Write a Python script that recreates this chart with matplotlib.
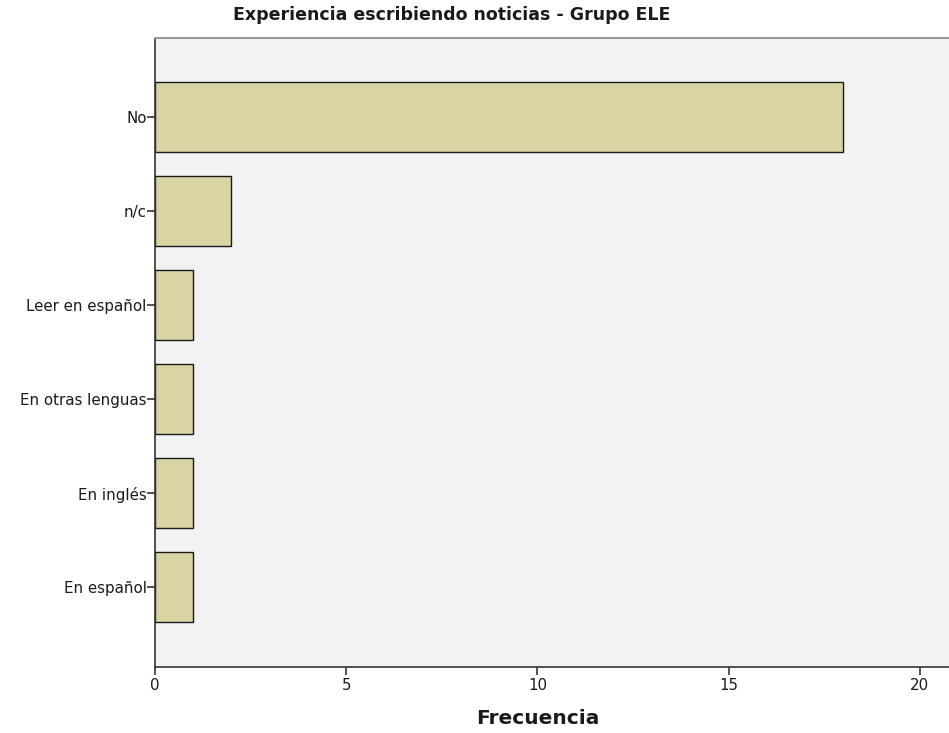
import matplotlib.pyplot as plt

categorias = ['En español', 'En inglés', 'En otras lenguas', 'Leer en español', 'n/c', 'No']
frecuencias = [1, 1, 1, 1, 2, 18]
ticks_x = [0, 5, 10, 15, 20]

plt.rcParams['font.family'] = ['DejaVu Sans']

fig = plt.figure(figsize=(9.49, 7.33), dpi=100)
ax = fig.add_axes([155 / 949, 66 / 733, 1 - 155 / 949, (667 - 38) / 733])
ax.set_facecolor('#f2f2f2')

pos = list(range(len(categorias)))
ax.barh(pos, frecuencias, height=0.745, color='#d9d4a3', edgecolor='#1a1a1a', linewidth=1.0)

ax.set_xlim(0, 20.76)
ax.set_ylim(-0.85, 5.84)
ax.set_xticks(ticks_x)
ax.set_yticks(pos)
ax.set_yticklabels(categorias)
ax.tick_params(axis='both', direction='out', length=6, width=1.2, color='#333333',
               labelsize=10.8, labelcolor='#1a1a1a', pad=0)
ax.tick_params(axis='x', pad=2)

for s in ['left', 'bottom']:
    ax.spines[s].set_color('#333333')
    ax.spines[s].set_linewidth(1.2)
ax.spines['top'].set_color('#999999')
ax.spines['top'].set_linewidth(1.5)
ax.spines['right'].set_visible(False)

fig.text(452 / 949, 1 - 15 / 733, 'Experiencia escribiendo noticias - Grupo ELE',
         ha='center', va='center', fontsize=12.5, fontweight='bold', color='#1a1a1a')
fig.text(538 / 949, 1 - 718 / 733, 'Frecuencia', ha='center', va='center',
         fontsize=14.5, fontweight='bold', color='#1a1a1a')

fig.savefig('out.png', dpi=100)
